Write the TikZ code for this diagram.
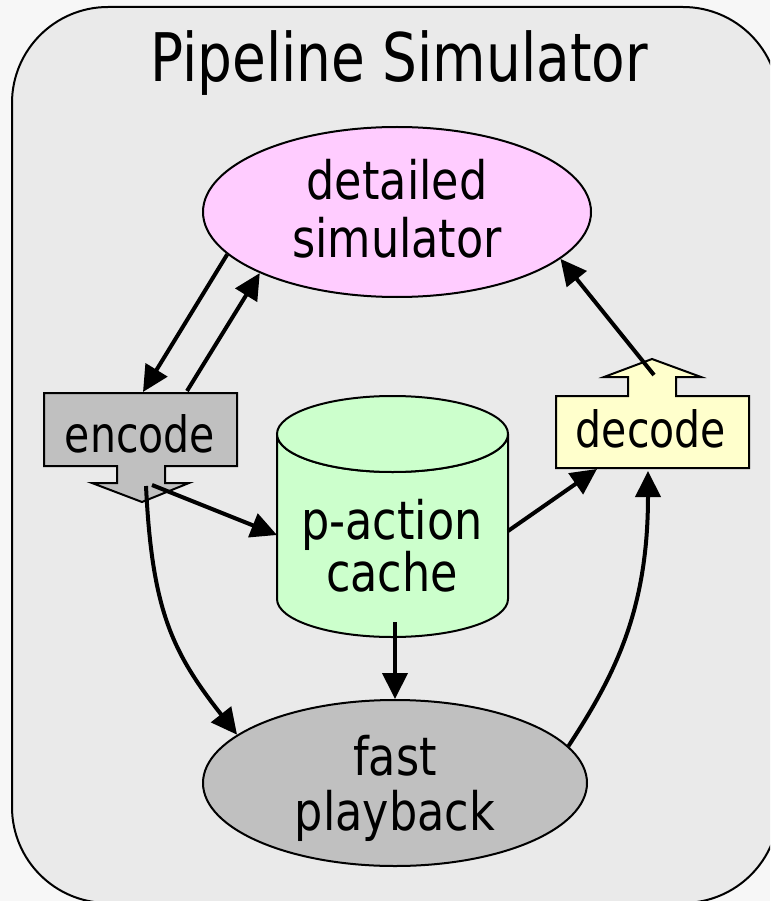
\documentclass[tikz,border=0pt]{standalone}
\usepackage{fontspec}
\setmainfont{DejaVu Sans}
\newfontfamily\titlefont[FakeStretch=0.82]{DejaVu Sans}
\newfontfamily\bigfont[FakeStretch=0.84]{DejaVu Sans}
\newfontfamily\boxfont[FakeStretch=0.82]{DejaVu Sans}
\usetikzlibrary{arrows.meta,shapes.geometric}

\definecolor{pagebg}{HTML}{F7F7F7}
\definecolor{panelbg}{HTML}{EAEAEA}
\definecolor{simpink}{HTML}{FFCCFF}
\definecolor{cachegreen}{HTML}{CCFFCC}
\definecolor{decodeyellow}{HTML}{FFFFCC}
\definecolor{shapegray}{HTML}{C0C0C0}

\begin{document}
\begin{tikzpicture}[x=1pt,y=-1pt,
  outline/.style={draw=black,line width=2pt,line join=miter},
  flow/.style={line width=4pt,-{Triangle[length=26pt,width=25pt]}},
  titletext/.style={font=\titlefont\fontsize{67}{67}\selectfont,inner sep=0pt},
  bigtext/.style={font=\bigfont\fontsize{53}{58}\selectfont,align=center,inner sep=0pt},
  boxtext/.style={font=\boxfont\fontsize{50}{50}\selectfont,inner sep=0pt},
  bubble/.style={outline,ellipse,inner sep=0pt}]

\useasboundingbox (0,0) rectangle (770,901);
\fill[pagebg] (0,0) rectangle (770,901);

% rounded panel holding the whole simulator
\begin{scope}
  \clip (0,0) rectangle (770,901);
  \draw[outline,fill=panelbg,rounded corners=96pt] (12,7) rectangle (779,903);
\end{scope}
\node[titletext,anchor=base] (title) at (399,82) {Pipeline Simulator};

% detailed simulator
\node[bubble,fill=simpink,minimum width=388pt,minimum height=170pt] (sim) at (397,212) {};
\node[bigtext] (simtext) at (397,208.5) {detailed\\simulator};

% fast playback
\node[bubble,fill=shapegray,minimum width=384pt,minimum height=166pt] (fast) at (395,783) {};
\node[bigtext,font=\bigfont\fontsize{53}{55}\selectfont] (fasttext) at (395,788) {fast\\playback};

% p-action cache (cylinder)
\draw[outline,fill=cachegreen] (277,434) -- (277,599)
  arc[start angle=180,end angle=0,x radius=115.5,y radius=38]
  -- (508,434)
  arc[start angle=0,end angle=180,x radius=115.5,y radius=38] -- cycle;
\draw[outline,fill=cachegreen] (392.5,434) ellipse[x radius=115.5,y radius=38];
\node[bigtext,font=\bigfont\fontsize{53}{49}\selectfont] (cache) at (392,546) {p-action\\cache};
\coordinate (cacheW) at (277,535);
\coordinate (cacheE) at (508,531);
\coordinate (cacheS) at (395,622);

% encode block with downward arrow
\draw[outline,fill=shapegray] (44,393) -- (237,393) -- (237,466) -- (165,466)
  -- (165,483) -- (189,483) -- (142,502) -- (92,483) -- (117,483)
  -- (117,466) -- (44,466) -- cycle;
\node[boxtext,anchor=base] (encode) at (140,452) {encode};
\coordinate (encIn) at (143,392);
\coordinate (encOut) at (187,391);
\coordinate (encTipA) at (152,485);
\coordinate (encTipB) at (146,486);

% decode block with upward arrow
\draw[outline,fill=decodeyellow] (556,468) -- (556,396) -- (628,396) -- (628,377)
  -- (604,377) -- (652,359) -- (701,377) -- (676,377) -- (676,396)
  -- (749,396) -- (749,468) -- cycle;
\node[boxtext,anchor=base] (decode) at (651,447) {decode};
\coordinate (decOut) at (654,375);
\coordinate (decInA) at (597,469);
\coordinate (decInB) at (648,471);

% connectors
\draw[flow] (sim.194.6) -- (encIn);
\draw[flow] (encOut) -- (sim.204.5);
\draw[flow] (decOut) -- (sim.344);
\draw[flow] (encTipA) -- (cacheW);
\draw[flow] (cacheE) -- (decInA);
\draw[flow] (cacheS) -- (fast.north);
\draw[flow] (encTipB) .. controls (152,610) and (172,652) .. (fast.163.1);
\draw[flow] (fast.12.6) .. controls (615,675) and (648,610) .. (decInB);
\end{tikzpicture}
\end{document}
